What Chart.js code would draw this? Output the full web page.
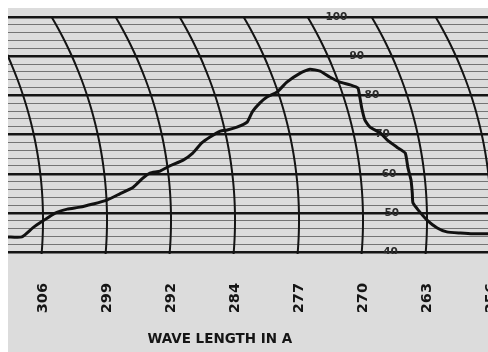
<!DOCTYPE html>
<html>
<head>
<meta charset="utf-8">
<script src="https://cdn.jsdelivr.net/npm/chart.js@4/dist/chart.umd.min.js"></script>
<style>
  html, body { margin: 0; padding: 0; background: #ffffff; }
  canvas { display: block; }
</style>
</head>
<body>
<canvas id="c" width="488" height="352"></canvas>
<script>
// ---- data (x in chart divisions: 0 = 306 A arc, 1 = 299 A arc, ...) ----
const waveLabels = ['306', '299', '292', '284', '277', '270', '263', '256'];
const waveTickPos = [0, 1, 2, 3, 4, 5, 6, 7];
const percentLabels = [100, 90, 80, 70, 60, 50, 40];

const curveX = [-0.55, -0.33, -0.16, 0, 0.19, 0.38, 0.58, 0.78, 1.0, 1.2, 1.41, 1.56, 1.67, 1.83, 1.98, 2.19, 2.34, 2.48, 2.61, 2.77, 2.88, 3.03, 3.19, 3.27, 3.39, 3.5, 3.66, 3.81, 4.02, 4.17, 4.33, 4.48, 4.64, 4.8, 4.92, 4.95, 4.98, 5.03, 5.11, 5.27, 5.38, 5.53, 5.66, 5.7, 5.75, 5.77, 5.78, 5.86, 6.0, 6.16, 6.31, 6.52, 6.72, 6.96];
const curveY = [43.9, 43.9, 46.2, 48.0, 50.0, 51.0, 51.5, 52.3, 53.3, 54.9, 56.6, 58.9, 60.2, 60.7, 62.0, 63.5, 65.3, 67.9, 69.4, 70.9, 71.2, 71.9, 73.2, 75.8, 78.1, 79.6, 80.9, 83.4, 85.7, 86.7, 86.2, 84.7, 83.4, 82.7, 81.9, 79.6, 76.8, 73.7, 71.9, 70.4, 68.6, 66.8, 65.3, 61.7, 58.4, 55.1, 52.6, 50.8, 48.2, 46.2, 45.2, 44.9, 44.7, 44.7];

// chart-paper geometry (styling)
const arcDivs = [-1, 0, 1, 2, 3, 4, 5, 6, 7, 8];
const arcRadiusDivs = 6.25;   // pen-arc radius, in divisions
const arcCenterValue = 48.2;  // value where the arcs are vertical
const labelArcDiv = 5.45;     // arc on which the % labels sit
const gridValues = [];
for (let v = 40; v <= 100; v += 2) gridValues.push(v);

const FONT = "'DejaVu Sans', 'Liberation Sans', sans-serif";
const PAPER = '#dcdcdc';

function arcX(xs, ys, k, y) {
  const xv = xs.getPixelForValue(k);
  const R = arcRadiusDivs * (xs.getPixelForValue(1) - xs.getPixelForValue(0));
  const yc = ys.getPixelForValue(arcCenterValue);
  const d = y - yc;
  return xv - (R - Math.sqrt(R * R - d * d));
}

const paperPlugin = {
  id: 'paper',
  beforeDraw(chart) {
    const ctx = chart.ctx;
    const a = chart.chartArea;
    ctx.save();
    ctx.fillStyle = '#ffffff';
    ctx.fillRect(0, 0, chart.width, chart.height);
    ctx.fillStyle = PAPER;
    ctx.fillRect(a.left, a.top, chart.width - a.left, chart.height - a.top);
    ctx.restore();
  },
  beforeDatasetsDraw(chart) {
    const ctx = chart.ctx;
    const a = chart.chartArea;
    const xs = chart.scales.x, ys = chart.scales.y;
    ctx.save();
    ctx.beginPath();
    ctx.rect(a.left, a.top, a.right - a.left, a.bottom - a.top);
    ctx.clip();
    ctx.strokeStyle = '#141414';
    ctx.lineWidth = 2;
    const yTop = ys.getPixelForValue(100);
    arcDivs.forEach(k => {
      ctx.beginPath();
      let first = true;
      for (let y = yTop; y <= a.bottom + 0.5; y += 1.5) {
        const x = arcX(xs, ys, k, y);
        if (first) { ctx.moveTo(x, y); first = false; } else ctx.lineTo(x, y);
      }
      ctx.stroke();
    });
    // % labels along one pen arc
    ctx.font = 'bold 10.5px ' + FONT;
    ctx.textAlign = 'center';
    ctx.textBaseline = 'middle';
    ctx.fillStyle = '#2a2a2a';
    percentLabels.forEach(v => {
      const y = ys.getPixelForValue(v);
      const x = arcX(xs, ys, labelArcDiv, y);
      ctx.fillText(String(v), x, y);
    });
    ctx.restore();
  }
};

new Chart(document.getElementById('c'), {
  type: 'line',
  data: {
    datasets: [{
      data: curveX.map((x, i) => ({ x: x, y: curveY[i] })),
      borderColor: '#111111',
      borderWidth: 3,
      pointRadius: 0,
      tension: 0.15,
      fill: false
    }]
  },
  options: {
    responsive: false,
    animation: false,
    events: [],
    layout: { padding: { left: 8, top: 8, right: 0, bottom: 0 } },
    plugins: { legend: { display: false }, tooltip: { enabled: false } },
    scales: {
      x: {
        type: 'linear',
        min: -0.547,
        max: 6.953,
        grid: { display: false, drawTicks: false },
        border: { display: false },
        afterBuildTicks: s => { s.ticks = waveTickPos.map(v => ({ value: v })); },
        ticks: {
          autoSkip: false,
          maxRotation: 90,
          minRotation: 90,
          padding: 29,
          color: '#151515',
          font: { family: FONT, size: 14.5, weight: 'bold' },
          callback: (v, i) => waveLabels[i]
        },
        title: {
          display: true,
          text: 'WAVE LENGTH IN A            ',
          color: '#151515',
          font: { family: FONT, size: 13.5, weight: 'bold' },
          padding: { top: 0, bottom: 4 }
        },
        afterFit: s => { s.height = 98; s.paddingLeft = 0; s.paddingRight = 0; }
      },
      y: {
        type: 'linear',
        min: 39.55,
        max: 102.3,
        afterBuildTicks: s => { s.ticks = gridValues.map(v => ({ value: v })); },
        ticks: { display: false },
        grid: {
          drawTicks: false,
          color: c => (c.tick && c.tick.value % 10 === 0) ? '#151515' : '#747474',
          lineWidth: c => (c.tick && c.tick.value % 10 === 0) ? 2.5 : 1
        },
        border: { display: false },
        afterFit: s => { s.width = 0; }
      }
    }
  },
  plugins: [paperPlugin]
});
</script>
</body>
</html>
